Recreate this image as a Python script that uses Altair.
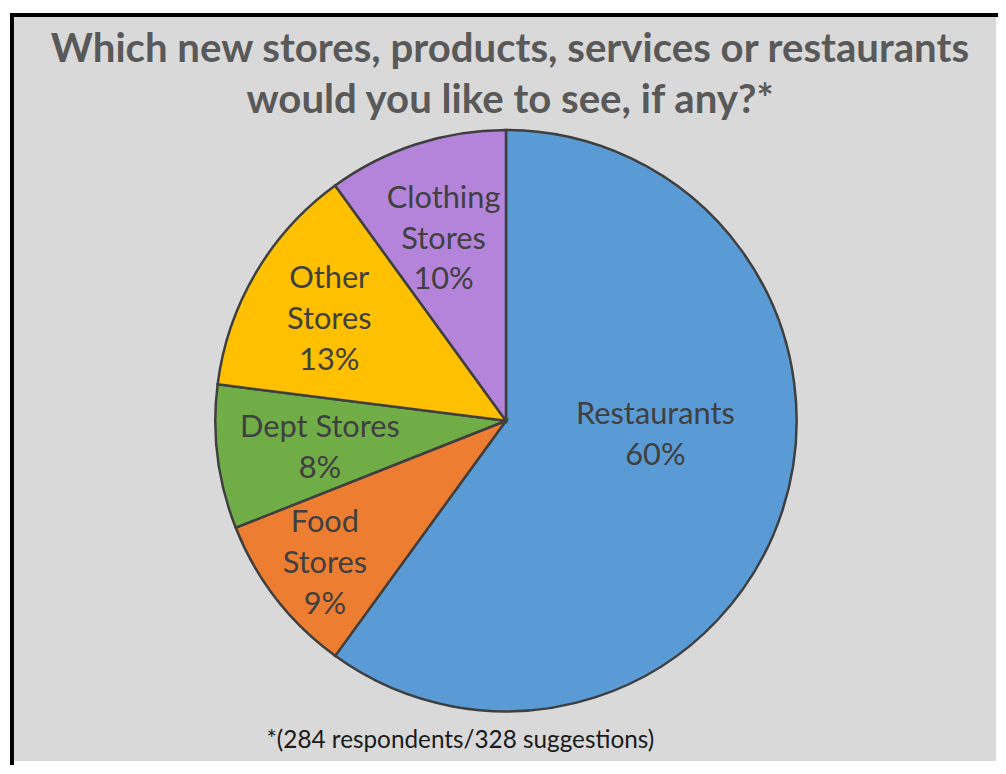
import altair as alt
import pandas as pd

# ---- data ----
categories = ["Restaurants", "Food Stores", "Dept Stores", "Other Stores", "Clothing Stores"]
label_text = ["Restaurants", "Food\nStores", "Dept Stores", "Other\nStores", "Clothing\nStores"]
percents = [60, 9, 8, 13, 10]
colors = ["#5B9BD5", "#ED7D31", "#70AD47", "#FFC000", "#B384DA"]

title_lines = ["Which new stores, products, services or restaurants",
               "would you like to see, if any?*"]
footnote = "*(284 respondents/328 suggestions)"

df = pd.DataFrame({
    "category": categories,
    "label": label_text,
    "pct": percents,
    "order": list(range(len(categories))),
})

W, H = 998, 758
CX, CY, R = 500, 411, 293
FONT = "Lato"
LFS, LLH = 31, 41

theta_scale = alt.Scale(domain=[0, 100], range=[0, 6.283185307179586])
color_scale = alt.Scale(domain=categories, range=colors)

base = alt.Chart(df).transform_window(
    cum="sum(pct)", sort=[alt.SortField("order")], frame=[None, 0]
).transform_calculate(
    start="datum.cum - datum.pct",
    mid="datum.cum - datum.pct / 2",
    text="datum.label + '\\n' + datum.pct + '%'",
)

pie = base.mark_arc(outerRadius=R, stroke="#3F3F3F", strokeWidth=2.5).encode(
    theta=alt.Theta("start:Q", scale=theta_scale),
    theta2="cum:Q",
    color=alt.Color("category:N", scale=color_scale, legend=None),
    x=alt.value(CX), y=alt.value(CY),
)

# label placement style: (radius, dx, dy)
label_style = {
    "Restaurants": (150, 8, -52),
    "Food Stores": (231, 0, -38),
    "Dept Stores": (189, 0, -16),
    "Other Stores": (207, 0, -37),
    "Clothing Stores": (194, -3, -39),
}

label_layers = []
for cat, (rad, ddx, ddy) in label_style.items():
    label_layers.append(
        base.transform_filter(f"datum.category == '{cat}'").mark_text(
            font=FONT, fontSize=LFS, color="#404040", lineBreak="\n", lineHeight=LLH,
            align="center", baseline="middle", radius=rad, dx=ddx, dy=ddy,
        ).encode(
            theta=alt.Theta("mid:Q", scale=theta_scale),
            text="text:N",
            x=alt.value(CX), y=alt.value(CY),
        )
    )

one = pd.DataFrame({"t": [0]})

title = alt.Chart(one).mark_text(
    font=FONT, fontSize=40.5, fontWeight="bold", color="#595959",
    align="center", baseline="middle", lineHeight=52, lineBreak="\n",
).encode(x=alt.value(504), y=alt.value(37), text=alt.value("\n".join(title_lines)))

foot = alt.Chart(one).mark_text(
    font=FONT, fontSize=24.5, color="#1A1A1A", align="center", baseline="middle",
).encode(x=alt.value(454), y=alt.value(734), text=alt.value(footnote))

left_border = alt.Chart(one).mark_rule(color="black", strokeWidth=4).encode(
    x=alt.value(2), y=alt.value(0), y2=alt.value(H))
top_border = alt.Chart(one).mark_rule(color="black", strokeWidth=4).encode(
    x=alt.value(0), x2=alt.value(W), y=alt.value(2))

chart = alt.layer(pie, *label_layers, title, foot, left_border, top_border).properties(
    width=W, height=H, padding=0,
    autosize=alt.AutoSizeParams(type="fit", contains="padding"),
    background="white",
).configure_view(fill="#D9D9D9", stroke=None)

chart.save("out.html", embed_options={"renderer": "svg", "actions": False})
